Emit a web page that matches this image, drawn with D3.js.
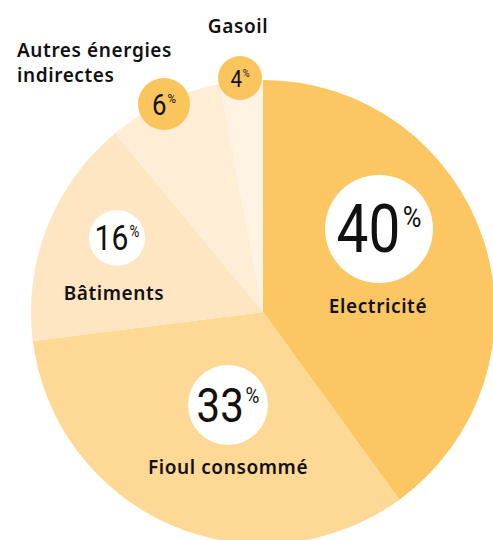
<!DOCTYPE html>
<html>
<head>
<meta charset="utf-8">
<script src="https://cdn.jsdelivr.net/npm/d3@7"></script>
<style>
  body { margin: 0; background: #fff; }
  .cat { font-family: "Noto Sans", "Open Sans", sans-serif; font-weight: 600; fill: #111; letter-spacing: 0.6px; }
  .num { font-family: "Roboto", sans-serif; font-weight: 400; fill: #111; }
</style>
</head>
<body>
<svg id="chart"></svg>
<script>
// categories, clockwise from 12 o'clock
const categories = ["Electricité", "Fioul consommé", "Bâtiments", "Autres énergies indirectes", "Gasoil"];
// printed percentages
const percents = [40, 33, 16, 6, 4];
// slice shares as drawn in the picture
const shares = [40, 33, 16, 8, 3];
const colors = ["#fcc662", "#fed895", "#fee6c3", "#ffedd5", "#fff3e3"];

const width = 493, height = 540;
const cx = 263, cy = 312, radius = 232;
const squeeze = 0.86; // the numbers use a condensed face

// label layout: bubble centre, bubble radius, number size, name anchor
const layout = [
  { x: 379, y: 229, r: 54, size: 66, fill: "#fff", name: { x: 378, y: 313, anchor: "middle" } },
  { x: 228, y: 405, r: 40, size: 49, fill: "#fff", name: { x: 228, y: 474, anchor: "middle" } },
  { x: 117, y: 238, r: 28, size: 35, fill: "#fff", name: { x: 114, y: 300, anchor: "middle" } },
  { x: 164, y: 104, r: 26, size: 30, fill: "#fbc55e", name: { x: 17, y: 57, anchor: "start", lines: ["Autres énergies", "indirectes"] } },
  { x: 240, y: 78, r: 22, size: 24, fill: "#fbc55e", name: { x: 238, y: 33, anchor: "middle" } }
];

const svg = d3.select("#chart").attr("width", width).attr("height", height);

const pie = d3.pie().sort(null).value(d => d);
const arc = d3.arc().innerRadius(0).outerRadius(radius);

const g = svg.append("g").attr("transform", `translate(${cx},${cy})`);
g.selectAll("path")
  .data(pie(shares))
  .enter()
  .append("path")
  .attr("d", arc)
  .attr("fill", (d, i) => colors[i]);

const labels = svg.selectAll("g.lbl")
  .data(categories.map((c, i) => ({ name: c, pct: percents[i], l: layout[i] })))
  .enter()
  .append("g")
  .attr("class", "lbl");

labels.append("circle")
  .attr("cx", d => d.l.x)
  .attr("cy", d => d.l.y)
  .attr("r", d => d.l.r)
  .attr("fill", d => d.l.fill);

// number + small raised % sign, centred together in the bubble
labels.each(function(d) {
  const sel = d3.select(this);
  const grp = sel.append("g");
  const ps = d.l.size * 0.45;
  const n = grp.append("text")
    .attr("class", "num")
    .style("font-size", d.l.size + "px")
    .text(d.pct);
  const p = grp.append("text")
    .attr("class", "num")
    .style("font-size", ps + "px")
    .text("%");
  const nw = n.node().getComputedTextLength();
  const pw = p.node().getComputedTextLength();
  const gap = d.l.size * 0.04;
  p.attr("x", nw + gap).attr("y", -d.l.size * 0.71 + ps * 0.71);
  const total = (nw + gap + pw) * squeeze;
  grp.attr("transform", `translate(${d.l.x - total / 2},${d.l.y + d.l.size * 0.355}) scale(${squeeze},1)`);
});

labels.append("text")
  .attr("class", "cat")
  .attr("x", d => d.l.name.x)
  .attr("y", d => d.l.name.y)
  .attr("text-anchor", d => d.l.name.anchor)
  .style("font-size", "19px")
  .selectAll("tspan")
  .data(d => (d.l.name.lines || [d.name]).map(t => ({ t, x: d.l.name.x })))
  .enter()
  .append("tspan")
  .attr("x", d => d.x)
  .attr("dy", (d, i) => i === 0 ? 0 : 25)
  .text(d => d.t);
</script>
</body>
</html>
